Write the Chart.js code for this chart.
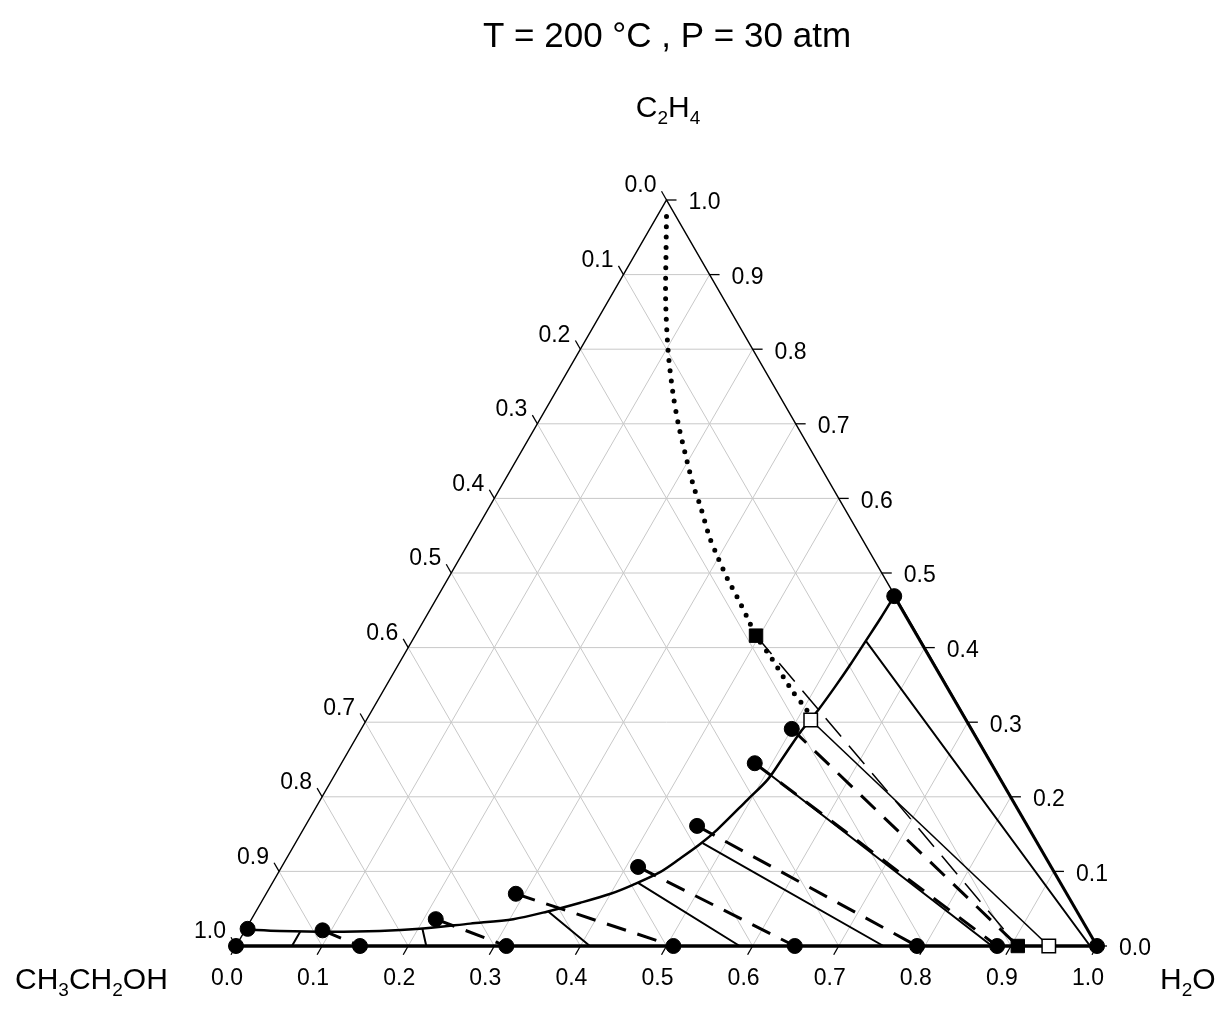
<!DOCTYPE html>
<html>
<head>
<meta charset="utf-8">
<script src="https://cdn.jsdelivr.net/npm/chart.js@4.4.1/dist/chart.umd.min.js"></script>
<style>
  html, body { margin: 0; padding: 0; background: #fff; }
</style>
</head>
<body>
<canvas id="chart" width="1221" height="1011"></canvas>
<script>
// mole fraction ticks, same on all three sides
const tickValues = [0, 0.1, 0.2, 0.3, 0.4, 0.5, 0.6, 0.7, 0.8, 0.9, 1.0];
const tickLabels = ["0.0", "0.1", "0.2", "0.3", "0.4", "0.5", "0.6", "0.7", "0.8", "0.9", "1.0"];

// calculated binodal (ethylene rich branch), x = water, y = ethylene
const binodalWater = [0.000, 0.041, 0.100, 0.157, 0.202, 0.257, 0.304, 0.338, 0.371, 0.400, 0.420, 0.443, 0.457, 0.471, 0.481, 0.496, 0.506, 0.509, 0.512, 0.518, 0.522, 0.525, 0.527, 0.529, 0.530];
const binodalEthylene = [0.022, 0.020, 0.019, 0.020, 0.023, 0.030, 0.036, 0.046, 0.058, 0.070, 0.082, 0.099, 0.117, 0.137, 0.156, 0.196, 0.223, 0.253, 0.286, 0.316, 0.347, 0.378, 0.409, 0.440, 0.469];

// dotted line from the C2H4 corner to the calculated plait point
const locusWater = [0.011, 0.033, 0.066, 0.104, 0.137, 0.163, 0.191, 0.222, 0.245, 0.276, 0.300, 0.324, 0.348, 0.373, 0.396, 0.430, 0.474, 0.505, 0.516];
const locusEthylene = [0.978, 0.933, 0.866, 0.796, 0.741, 0.701, 0.661, 0.618, 0.589, 0.548, 0.520, 0.493, 0.468, 0.441, 0.416, 0.385, 0.343, 0.316, 0.303];

// experimental points
const vaporWater = [0.002, 0.090, 0.214, 0.290, 0.414, 0.455, 0.480, 0.500, 0.530];
const vaporEthylene = [0.023, 0.021, 0.036, 0.070, 0.106, 0.161, 0.245, 0.291, 0.469];
const liquidWater = [0.000, 0.144, 0.314, 0.508, 0.649, 0.791, 0.884, 1.000];
const liquidEthylene = [0, 0, 0, 0, 0, 0, 0, 0];

// experimental tie lines (dashed): upper end -> lower end
const expTieTop = [[0.090, 0.021], [0.214, 0.036], [0.290, 0.070], [0.414, 0.106], [0.455, 0.161], [0.480, 0.245], [0.500, 0.291]];
const expTieBottom = [[0.144, 0], [0.314, 0], [0.508, 0], [0.649, 0], [0.791, 0], [0.884, 0], [0.908, 0]];

// calculated tie lines (solid)
const calcTieTop = [[0.065, 0.019], [0.205, 0.023], [0.340, 0.046], [0.424, 0.085], [0.473, 0.138], [0.505, 0.230], [0.527, 0.409]];
const calcTieBottom = [[0.065, 0], [0.221, 0], [0.411, 0], [0.585, 0], [0.752, 0], [0.878, 0], [0.992, 0]];

// binary C2H4 - H2O tie line
const binaryTie = [[0.530, 0.469], [1.0, 0]];

// plait points: filled = experimental, open = calculated
const expPlait = [[0.396, 0.416], [0.908, 0]];
const calcPlait = [[0.516, 0.303], [0.944, 0]];

function toXY(w, e) {
  return { x: w + e / 2, y: e };
}

function segments(tops, bottoms) {
  const out = [];
  tops.forEach(function (t, i) {
    out.push(toXY(t[0], t[1]));
    out.push(toXY(bottoms[i][0], bottoms[i][1]));
    out.push({ x: bottoms[i][0], y: null });
  });
  return out;
}

// light grid lines
var gridData = [];
tickValues.slice(1, -1).forEach(function (v) {
  gridData.push(toXY(0, v), toXY(1 - v, v), { x: 0, y: null });
  gridData.push(toXY(v, 0), toXY(v, 1 - v), { x: 0, y: null });
  gridData.push(toXY(1 - v, 0), toXY(0, 1 - v), { x: 0, y: null });
});

const frameData = [toXY(0, 0), toXY(1, 0), toXY(0, 1), toXY(0, 0)];

const FONT = '"Liberation Sans", Arial, Helvetica, sans-serif';

function drawFormula(ctx, parts, x, y, align) {
  var total = 0;
  parts.forEach(function (p) {
    ctx.font = (p[1] ? "19px " : "30px ") + FONT;
    total += ctx.measureText(p[0]).width;
  });
  var cx = align == "center" ? x - total / 2 : x;
  ctx.textAlign = "left";
  ctx.textBaseline = "alphabetic";
  parts.forEach(function (p) {
    ctx.font = (p[1] ? "19px " : "30px ") + FONT;
    ctx.fillText(p[0], cx, p[1] ? y + 7 : y);
    cx += ctx.measureText(p[0]).width;
  });
}

const ternaryAxes = {
  id: "ternaryAxes",
  afterDatasetsDraw(chart) {
    const ctx = chart.ctx;
    const sx = chart.scales.x, sy = chart.scales.y;
    const px = function (w, e) {
      return [sx.getPixelForValue(w + e / 2), sy.getPixelForValue(e)];
    };
    ctx.save();
    ctx.strokeStyle = "#000";
    ctx.fillStyle = "#000";
    ctx.lineWidth = 1.3;
    ctx.font = "23px " + FONT;
    tickValues.forEach(function (v, i) {
      // bottom: H2O
      var b = px(v, 0);
      ctx.beginPath();
      ctx.moveTo(b[0], b[1]);
      ctx.lineTo(b[0] - 5, b[1] + 8.7);
      ctx.stroke();
      ctx.textAlign = "center";
      ctx.textBaseline = "middle";
      ctx.fillText(tickLabels[i], b[0] - 9, b[1] + 33);
      // right: C2H4
      var r = px(1 - v, v);
      ctx.beginPath();
      ctx.moveTo(r[0], r[1]);
      ctx.lineTo(r[0] + 10, r[1]);
      ctx.stroke();
      ctx.textAlign = "left";
      ctx.fillText(tickLabels[i], r[0] + 22, r[1] + 3);
      // left: CH3CH2OH
      var l = px(0, 1 - v);
      ctx.beginPath();
      ctx.moveTo(l[0], l[1]);
      ctx.lineTo(l[0] - 5, l[1] - 8.7);
      ctx.stroke();
      ctx.textAlign = "right";
      ctx.fillText(tickLabels[i], l[0] - 10, l[1] - 14);
    });

    ctx.textAlign = "center";
    ctx.textBaseline = "alphabetic";
    ctx.font = "35px " + FONT;
    ctx.fillText("T = 200 °C , P = 30 atm", 667, 47);

    drawFormula(ctx, [["C", 0], ["2", 1], ["H", 0], ["4", 1]], 668, 117, "center");
    drawFormula(ctx, [["CH", 0], ["3", 1], ["CH", 0], ["2", 1], ["OH", 0]], 15, 989, "left");
    drawFormula(ctx, [["H", 0], ["2", 1], ["O", 0]], 1160, 989, "left");
    ctx.restore();
  },
};

function lineSet(data, width, dash, order, extra) {
  return Object.assign({
    data: data,
    showLine: true,
    borderColor: "#000",
    borderWidth: width,
    borderDash: dash,
    pointRadius: 0,
    pointHoverRadius: 0,
    spanGaps: false,
    clip: false,
    order: order,
  }, extra || {});
}

const datasets = [
  // markers on top
  {
    data: vaporWater.map(function (w, i) { return toXY(w, vaporEthylene[i]); })
      .concat(liquidWater.map(function (w, i) { return toXY(w, liquidEthylene[i]); })),
    showLine: false, pointStyle: "circle", pointRadius: 7.5, pointBorderWidth: 1,
    pointBackgroundColor: "#000", pointBorderColor: "#000", clip: false, order: 0,
  },
  {
    data: expPlait.map(function (p) { return toXY(p[0], p[1]); }),
    showLine: false, pointStyle: "rect", pointRadius: 9.5, pointBorderWidth: 1,
    pointBackgroundColor: "#000", pointBorderColor: "#000", clip: false, order: 0,
  },
  {
    data: calcPlait.map(function (p) { return toXY(p[0], p[1]); }),
    showLine: false, pointStyle: "rect", pointRadius: 9.5, pointBorderWidth: 1.5,
    pointBackgroundColor: "#fff", pointBorderColor: "#000", clip: false, order: 0,
  },
  lineSet(binodalWater.map(function (w, i) { return toXY(w, binodalEthylene[i]); }), 2.5, [], 1, { tension: 0.3 }),
  lineSet(locusWater.map(function (w, i) { return toXY(w, locusEthylene[i]); }), 5, [0, 10.3], 1, { tension: 0.3, borderCapStyle: "round" }),
  lineSet(segments(expTieTop, expTieBottom), 3, [20, 12], 2),
  lineSet(segments(calcTieTop, calcTieBottom), 2, [], 2),
  lineSet(segments([binaryTie[0]], [binaryTie[1]]), 3, [], 2),
  lineSet(segments([calcPlait[0]], [calcPlait[1]]), 1.6, [], 2),
  lineSet(segments([expPlait[0]], [expPlait[1]]), 1.5, [24, 12], 2),
  lineSet([toXY(0, 0), toXY(1, 0)], 3.5, [], 3),
  lineSet(frameData, 1.5, [], 4),
  lineSet(gridData, 1, [], 9, { borderColor: "#c8c8c8" }),
];

new Chart(document.getElementById("chart"), {
  type: "scatter",
  data: { datasets: datasets },
  options: {
    responsive: false,
    devicePixelRatio: 1,
    animation: false,
    events: [],
    layout: { padding: { left: 236, right: 124, top: 200, bottom: 65 } },
    scales: {
      x: { type: "linear", min: 0, max: 1, display: false },
      y: { type: "linear", min: 0, max: 1, display: false },
    },
    plugins: { legend: { display: false }, tooltip: { enabled: false }, title: { display: false } },
  },
  plugins: [ternaryAxes],
});
</script>
</body>
</html>
